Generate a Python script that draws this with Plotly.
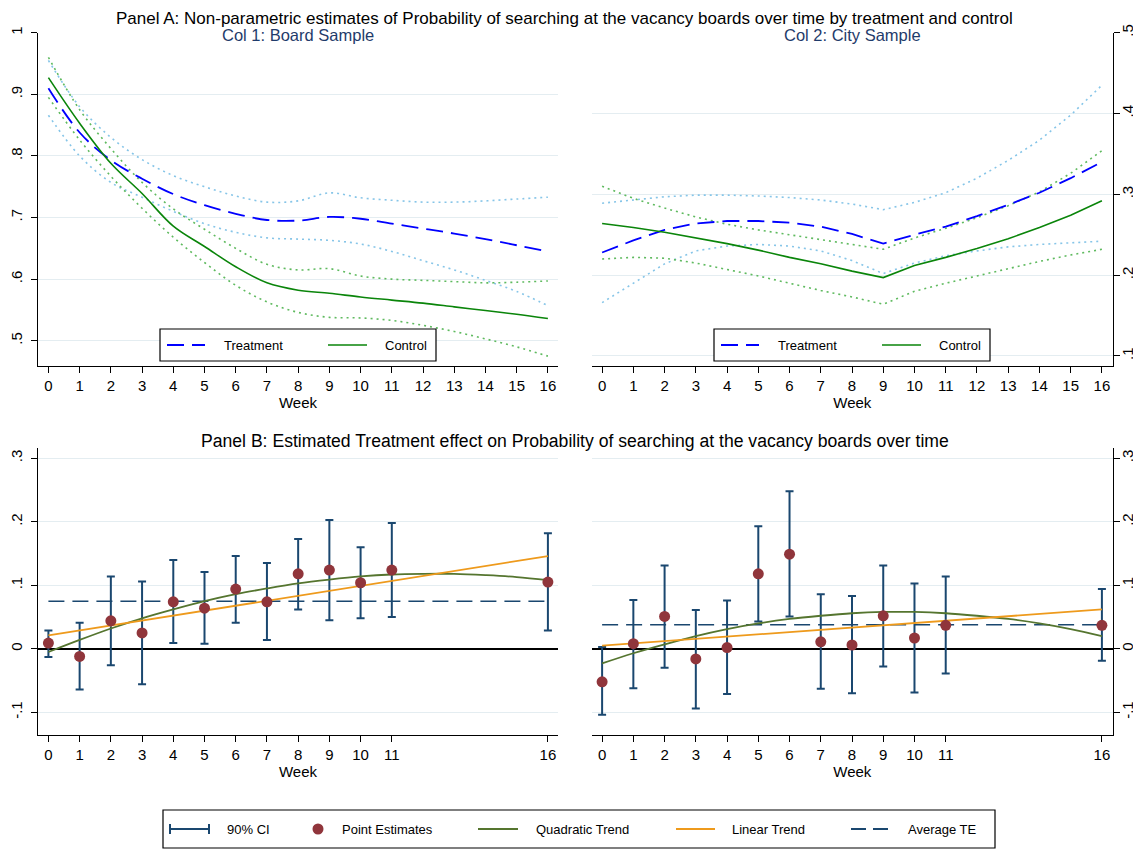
import plotly.graph_objects as go

# ---------------- data ----------------
weeks = list(range(17))
week_ticks_a = list(range(17))
week_ticks_b = [0, 1, 2, 3, 4, 5, 6, 7, 8, 9, 10, 11, 16]

ytick_a1 = [0.5, 0.6, 0.7, 0.8, 0.9, 1.0]
ytext_a1 = [".5", ".6", ".7", ".8", ".9", "1"]
ytick_a2 = [0.1, 0.2, 0.3, 0.4, 0.5]
ytext_a2 = [".1", ".2", ".3", ".4", ".5"]
ytick_b = [-0.1, 0.0, 0.1, 0.2, 0.3]
ytext_b = ["-.1", "0", ".1", ".2", ".3"]

# Panel A, Col 1: Board sample
board_treat = [0.910, 0.838, 0.793, 0.763, 0.738, 0.720, 0.706, 0.696, 0.695, 0.701, 0.698, 0.690, 0.682, 0.674, 0.665, 0.655, 0.645]
board_treat_hi = [0.955, 0.880, 0.830, 0.794, 0.768, 0.750, 0.735, 0.725, 0.727, 0.740, 0.732, 0.728, 0.725, 0.725, 0.727, 0.730, 0.733]
board_treat_lo = [0.866, 0.800, 0.757, 0.733, 0.710, 0.690, 0.676, 0.667, 0.665, 0.663, 0.657, 0.645, 0.630, 0.615, 0.598, 0.580, 0.557]
board_ctrl = [0.927, 0.853, 0.788, 0.739, 0.686, 0.653, 0.620, 0.594, 0.582, 0.577, 0.571, 0.566, 0.561, 0.555, 0.549, 0.543, 0.536]
board_ctrl_hi = [0.960, 0.875, 0.812, 0.757, 0.714, 0.681, 0.650, 0.624, 0.615, 0.617, 0.605, 0.600, 0.598, 0.596, 0.594, 0.595, 0.597]
board_ctrl_lo = [0.895, 0.826, 0.767, 0.715, 0.668, 0.627, 0.590, 0.563, 0.546, 0.538, 0.537, 0.533, 0.525, 0.515, 0.503, 0.490, 0.475]

# Panel A, Col 2: City sample
city_treat = [0.228, 0.243, 0.256, 0.264, 0.267, 0.267, 0.265, 0.260, 0.251, 0.239, 0.250, 0.260, 0.273, 0.287, 0.302, 0.320, 0.340]
city_treat_hi = [0.289, 0.293, 0.297, 0.299, 0.299, 0.298, 0.296, 0.293, 0.288, 0.281, 0.290, 0.302, 0.320, 0.342, 0.367, 0.398, 0.435]
city_treat_lo = [0.166, 0.190, 0.214, 0.230, 0.236, 0.238, 0.236, 0.230, 0.218, 0.202, 0.215, 0.224, 0.230, 0.235, 0.238, 0.240, 0.242]
city_ctrl = [0.264, 0.259, 0.253, 0.246, 0.239, 0.231, 0.222, 0.214, 0.205, 0.197, 0.212, 0.222, 0.233, 0.245, 0.259, 0.274, 0.292]
city_ctrl_hi = [0.310, 0.295, 0.283, 0.272, 0.263, 0.256, 0.250, 0.244, 0.238, 0.232, 0.246, 0.258, 0.271, 0.286, 0.303, 0.326, 0.354]
city_ctrl_lo = [0.220, 0.222, 0.221, 0.215, 0.207, 0.199, 0.190, 0.181, 0.173, 0.164, 0.180, 0.190, 0.199, 0.208, 0.217, 0.225, 0.232]

# Panel B: estimated treatment effects
te_weeks = [0, 1, 2, 3, 4, 5, 6, 7, 8, 9, 10, 11, 16]
board_te = [0.009, -0.012, 0.044, 0.025, 0.074, 0.064, 0.094, 0.074, 0.118, 0.124, 0.104, 0.124, 0.105]
board_te_hi = [0.029, 0.041, 0.114, 0.106, 0.140, 0.121, 0.146, 0.135, 0.173, 0.203, 0.160, 0.198, 0.182]
board_te_lo = [-0.013, -0.064, -0.026, -0.056, 0.009, 0.008, 0.041, 0.014, 0.062, 0.045, 0.048, 0.050, 0.029]
board_ate = 0.075
board_quad = [-0.005, 0.014, 0.032, 0.048, 0.062, 0.075, 0.086, 0.095, 0.103, 0.109, 0.114, 0.117, 0.118, 0.118, 0.116, 0.113, 0.108]
board_lin = [0.021, 0.146]

city_te = [-0.052, 0.008, 0.051, -0.016, 0.002, 0.118, 0.149, 0.011, 0.006, 0.052, 0.017, 0.037, 0.037]
city_te_hi = [0.003, 0.077, 0.131, 0.061, 0.076, 0.193, 0.248, 0.086, 0.083, 0.131, 0.103, 0.114, 0.094]
city_te_lo = [-0.104, -0.062, -0.030, -0.094, -0.071, 0.043, 0.051, -0.063, -0.070, -0.028, -0.069, -0.039, -0.019]
city_ate = 0.038
city_quad = [-0.023, -0.007, 0.007, 0.020, 0.031, 0.040, 0.047, 0.052, 0.056, 0.058, 0.058, 0.056, 0.052, 0.047, 0.040, 0.031, 0.020]
city_lin = [0.005, 0.062]
trend_ends = [0, 16]

legend_a_labels = ["Treatment", "Control"]
legend_b_labels = ["90% CI", "Point Estimates", "Quadratic Trend", "Linear Trend", "Average TE"]

# ---------------- style ----------------
OFF = 8                      # default page margin of the HTML body
W, H = 1141 - OFF, 850 - OFF
FONT = "Liberation Sans, Arial, Helvetica, sans-serif"
C_TREAT = "#0000ff"
C_CTRL = "#0a850a"
C_TREAT_CI = "#86c5e8"
C_CTRL_CI = "#5fba5f"
C_NAVY = "#1a476f"
C_MAROON = "#90353b"
C_QUAD = "#55752f"
C_LIN = "#ee9a1c"
C_GRID = "#e4edf1"
C_TITLE2 = "#1f3b6b"
DASH_T = "17px,8px"
DASH_A = "16px,8px"
DOT = "2px,4px"


def px_x(p):
    return (p - OFF) / W


def px_y(p):
    return 1 - (p - OFF) / H


fig = go.Figure()


def add_panel_a(xa, ya, treat, thi, tlo, ctrl, chi, clo, shape):
    for ci in (thi, tlo):
        fig.add_trace(go.Scatter(x=weeks, y=ci, mode="lines", xaxis=xa, yaxis=ya,
                                 line=dict(color=C_TREAT_CI, width=1.6, dash=DOT, shape=shape),
                                 showlegend=False, hoverinfo="skip"))
    for ci in (chi, clo):
        fig.add_trace(go.Scatter(x=weeks, y=ci, mode="lines", xaxis=xa, yaxis=ya,
                                 line=dict(color=C_CTRL_CI, width=1.6, dash=DOT, shape=shape),
                                 showlegend=False, hoverinfo="skip"))
    fig.add_trace(go.Scatter(x=weeks, y=treat, mode="lines", name="Treatment", xaxis=xa, yaxis=ya,
                             line=dict(color=C_TREAT, width=1.8, dash=DASH_T, shape=shape),
                             showlegend=False))
    fig.add_trace(go.Scatter(x=weeks, y=ctrl, mode="lines", name="Control", xaxis=xa, yaxis=ya,
                             line=dict(color=C_CTRL, width=1.6, shape=shape),
                             showlegend=False))


add_panel_a("x", "y", board_treat, board_treat_hi, board_treat_lo,
            board_ctrl, board_ctrl_hi, board_ctrl_lo, "spline")
add_panel_a("x2", "y2", city_treat, city_treat_hi, city_treat_lo,
            city_ctrl, city_ctrl_hi, city_ctrl_lo, "linear")


def add_panel_b(xa, ya, te, hi, lo, ate, quad, lin):
    up = [h - t for h, t in zip(hi, te)]
    dn = [t - l for t, l in zip(te, lo)]
    fig.add_trace(go.Scatter(x=te_weeks, y=te, mode="markers", name="90% CI", xaxis=xa, yaxis=ya,
                             marker=dict(size=1, color="rgba(0,0,0,0)"),
                             error_y=dict(type="data", symmetric=False, array=up, arrayminus=dn,
                                          color=C_NAVY, thickness=2, width=4),
                             showlegend=False, hoverinfo="skip"))
    fig.add_trace(go.Scatter(x=trend_ends, y=[ate, ate], mode="lines", name="Average TE",
                             xaxis=xa, yaxis=ya, showlegend=False,
                             line=dict(color=C_NAVY, width=1.5, dash=DASH_A)))
    fig.add_trace(go.Scatter(x=weeks, y=quad, mode="lines", name="Quadratic Trend",
                             xaxis=xa, yaxis=ya, showlegend=False,
                             line=dict(color=C_QUAD, width=1.8, shape="spline")))
    fig.add_trace(go.Scatter(x=trend_ends, y=lin, mode="lines", name="Linear Trend",
                             xaxis=xa, yaxis=ya, showlegend=False,
                             line=dict(color=C_LIN, width=1.8)))
    fig.add_trace(go.Scatter(x=te_weeks, y=te, mode="markers", name="Point Estimates",
                             xaxis=xa, yaxis=ya, showlegend=False,
                             marker=dict(size=11, color=C_MAROON)))


add_panel_b("x3", "y3", board_te, board_te_hi, board_te_lo, board_ate, board_quad, board_lin)
add_panel_b("x4", "y4", city_te, city_te_hi, city_te_lo, city_ate, city_quad, city_lin)

# ---------------- axes ----------------
dom_l = [px_x(37.8), px_x(558.2)]
dom_r = [px_x(591.9), px_x(1112.8)]
dom_a = [px_y(366), px_y(32.7)]
dom_b = [px_y(735.3), px_y(448.3)]
xr_l = [-0.34, 16.33]
xr_r = [-0.327, 16.349]

axis_common = dict(showline=True, linecolor="black", linewidth=1, ticks="outside",
                   ticklen=6, tickcolor="black", tickwidth=1, mirror=False, automargin=False,
                   tickfont=dict(family=FONT, size=15, color="black"))

xcommon = dict(axis_common, showgrid=False, zeroline=False,
               title=dict(text="Week", font=dict(family=FONT, size=15, color="black"), standoff=4))
ycommon = dict(axis_common, tickangle=-90, showgrid=True, gridcolor=C_GRID, gridwidth=1)
fig.update_layout(
    xaxis=dict(xcommon, domain=dom_l, anchor="y", range=xr_l, tickvals=week_ticks_a),
    xaxis2=dict(xcommon, domain=dom_r, anchor="y2", range=xr_r, tickvals=week_ticks_a),
    xaxis3=dict(xcommon, domain=dom_l, anchor="y3", range=xr_l, tickvals=week_ticks_b),
    xaxis4=dict(xcommon, domain=dom_r, anchor="y4", range=xr_r, tickvals=week_ticks_b),
    yaxis=dict(ycommon, domain=dom_a, anchor="x", range=[0.459, 1.0], ticklabelstandoff=3,
               tickvals=ytick_a1, ticktext=ytext_a1, zeroline=False),
    yaxis2=dict(ycommon, domain=dom_a, anchor="x2", side="right", range=[0.0876, 0.5],
                ticklabelstandoff=-5, tickvals=ytick_a2, ticktext=ytext_a2, zeroline=False),
    yaxis3=dict(ycommon, domain=dom_b, anchor="x3", range=[-0.1362, 0.3157], ticklabelstandoff=3,
                tickvals=ytick_b, ticktext=ytext_b,
                zeroline=True, zerolinecolor="black", zerolinewidth=1.5),
    yaxis4=dict(ycommon, domain=dom_b, anchor="x4", side="right", range=[-0.1362, 0.3157],
                ticklabelstandoff=-5, tickvals=ytick_b, ticktext=ytext_b,
                zeroline=True, zerolinecolor="black", zerolinewidth=1.5),
)

# ---------------- legends (drawn as keys) ----------------
shapes = []
ann = []


def box(x0, y0, x1, y1):
    shapes.append(dict(type="rect", xref="paper", yref="paper",
                       x0=px_x(x0), x1=px_x(x1), y0=px_y(y1), y1=px_y(y0),
                       line=dict(color="black", width=1.2), fillcolor="white", layer="above"))


def key_line(x0, x1, y0, color, width=2, dash=None, y1=None):
    line = dict(color=color, width=width)
    if dash:
        line["dash"] = dash
    y1 = y0 if y1 is None else y1
    shapes.append(dict(type="line", xref="paper", yref="paper",
                       x0=px_x(x0), x1=px_x(x1), y0=px_y(y0), y1=px_y(y1), line=line, layer="above"))


def key_text(x, y, text):
    ann.append(dict(text=text, x=px_x(x), y=px_y(y), xref="paper", yref="paper",
                    showarrow=False, xanchor="left", yanchor="middle",
                    font=dict(family=FONT, size=13, color="black")))


for dx in (0, 554):
    box(160 + dx, 329, 436 + dx, 361)
    key_line(167 + dx, 205 + dx, 345, C_TREAT, 1.8, DASH_T)
    key_text(222 + dx, 345, legend_a_labels[0])
    key_line(328 + dx, 367 + dx, 345, C_CTRL, 1.6)
    key_text(383 + dx, 345, legend_a_labels[1])

yb = 829
box(163, 810, 995, 848)
key_line(170, 209, yb, C_NAVY, 2)
key_line(170, 170, yb - 5, C_NAVY, 2, y1=yb + 5)
key_line(209, 209, yb - 5, C_NAVY, 2, y1=yb + 5)
key_text(225, yb, legend_b_labels[0])
shapes.append(dict(type="circle", xref="paper", yref="paper", layer="above",
                   x0=px_x(312.5), x1=px_x(323.5), y0=px_y(yb + 5.5), y1=px_y(yb - 5.5),
                   fillcolor=C_MAROON, line=dict(color=C_MAROON, width=0)))
key_text(340, yb, legend_b_labels[1])
key_line(478, 518, yb, C_QUAD, 2)
key_text(534, yb, legend_b_labels[2])
key_line(676, 715, yb, C_LIN, 2)
key_text(730, yb, legend_b_labels[3])
key_line(851, 889, yb, C_NAVY, 2, "15px,7px")
key_text(906, yb, legend_b_labels[4])

# ---------------- titles ----------------
ann += [
    dict(text="Panel A: Non-parametric estimates of Probability of searching at the vacancy boards over time by treatment and control",
         x=px_x(564), y=px_y(18.5), xref="paper", yref="paper", showarrow=False,
         font=dict(family=FONT, size=17, color="black"), xanchor="center", yanchor="middle"),
    dict(text="Col 1: Board Sample", x=8, xref="x", y=px_y(34.5), yref="paper", showarrow=False,
         font=dict(family=FONT, size=16.5, color=C_TITLE2), xanchor="center", yanchor="middle"),
    dict(text="Col 2: City Sample", x=8, xref="x2", y=px_y(34.5), yref="paper", showarrow=False,
         font=dict(family=FONT, size=16.5, color=C_TITLE2), xanchor="center", yanchor="middle"),
    dict(text="Panel B: Estimated Treatment effect on Probability of searching at the vacancy boards over time",
         x=px_x(575), y=px_y(441), xref="paper", yref="paper", showarrow=False,
         font=dict(family=FONT, size=17.6, color="black"), xanchor="center", yanchor="middle"),
]

fig.update_layout(
    annotations=ann, shapes=shapes,
    width=W, height=H,
    margin=dict(l=0, r=0, t=0, b=0, autoexpand=False),
    paper_bgcolor="white", plot_bgcolor="white",
    font=dict(family=FONT, size=15, color="black"),
    showlegend=False,
)

fig.write_html("out.html")
